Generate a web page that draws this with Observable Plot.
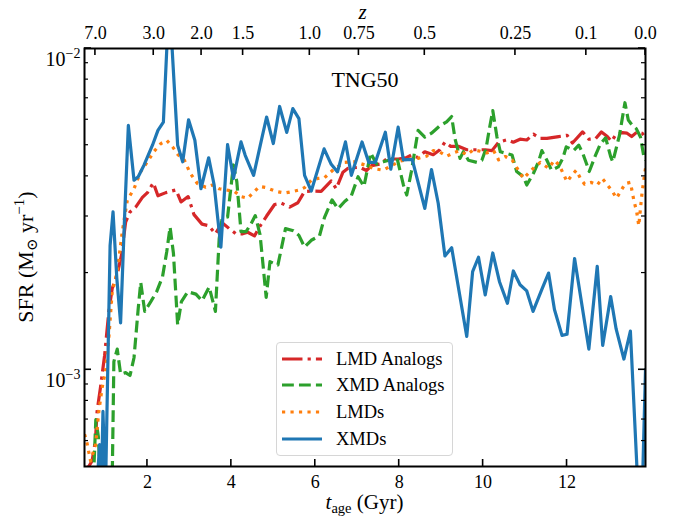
<!DOCTYPE html>
<html>
<head>
<meta charset="utf-8">
<script src="https://cdn.jsdelivr.net/npm/d3@7"></script>
<script src="https://cdn.jsdelivr.net/npm/@observablehq/plot@0.6"></script>
<style>
  body { margin: 0; background: #fff; }
  #wrap { position: relative; width: 676px; height: 518px; font-family: "Liberation Serif", serif; }
  #wrap svg text, #wrap svg tspan { font-family: "Liberation Serif", serif; }
  #legend { position: absolute; left: 276px; top: 342px; width: 177px; height: 114px; box-sizing: border-box;
            border: 1px solid #d6d6d6; border-radius: 4px; background: rgba(255,255,255,0.85); }
  .row { position: absolute; left: 5px; height: 26px; display: flex; align-items: center; }
  .row span { margin-left: 14px; font-size: 18.5px; color: #000; white-space: nowrap; font-family: "Liberation Serif", serif; }
</style>
</head>
<body>
<div id="wrap"><div id="legend"></div></div>
<script>
// ---- Data (SFR values in units of 1e-3 Msun/yr, ages in Gyr) ----
const lmdAnalogsAge = [0.50,0.60,0.68,0.76,0.80,0.88,0.98,1.08,1.16,1.28,1.38,1.48,1.585,1.72,1.88,2.0,2.14,2.25,2.44,2.68,2.80,2.97,3.11,3.30,3.46,3.62,3.78,3.95,4.11,4.27,4.39,4.55,4.69,4.84,5.03,5.19,5.39,5.585,5.745,5.905,6.14,6.38,6.50,6.66,6.78,7.06,7.22,7.34,7.54,7.70,7.98,8.18,8.29,8.45,8.61,8.81,8.97,9.09,9.23,9.41,9.61,9.85,10.05,10.21,10.37,10.57,10.72,10.88,11.04,11.20,11.36,11.52,11.80,12.0,12.13,12.37,12.52,12.68,12.82,12.96,13.06,13.17,13.315,13.43,13.54,13.67,13.79,13.87];
const lmdAnalogsSFR = [0.49,0.50,0.52,0.60,0.742,0.88,1.11,1.52,1.79,1.98,2.27,2.88,3.10,3.21,3.44,3.56,3.82,3.48,3.56,3.63,3.33,3.46,3.04,2.84,2.81,2.65,2.87,2.75,2.65,2.65,2.68,2.61,2.81,3.01,3.27,3.30,3.21,3.31,3.59,3.60,3.59,3.87,3.66,4.12,4.24,4.27,4.17,4.32,4.37,4.53,4.53,4.58,4.66,4.58,4.77,4.67,4.84,5.11,4.96,4.96,4.84,4.84,4.84,4.81,5.11,5.20,5.11,5.22,5.19,5.41,5.25,5.25,5.32,5.37,5.08,5.50,5.22,5.24,5.50,5.32,5.14,5.41,5.47,5.45,5.32,5.50,5.45,5.27];

const xmdAnalogsAge = [0.52,0.60,0.72,0.77,0.83,0.88,0.95,1.10,1.16,1.20,1.28,1.36,1.48,1.585,1.68,1.78,1.84,1.935,2.08,2.22,2.36,2.46,2.54,2.62,2.72,2.81,2.96,3.155,3.30,3.47,3.62,3.71,3.78,3.91,4.05,4.13,4.23,4.35,4.47,4.57,4.685,4.83,4.92,5.11,5.29,5.48,5.61,5.745,5.905,6.10,6.22,6.40,6.54,6.70,6.86,7.02,7.16,7.32,7.46,7.62,7.78,7.94,8.10,8.18,8.29,8.45,8.61,8.77,8.97,9.13,9.25,9.33,9.45,9.53,9.65,9.85,9.97,10.07,10.15,10.23,10.33,10.41,10.57,10.69,10.80,10.96,11.04,11.20,11.32,11.40,11.52,11.63,11.79,11.90,11.98,12.16,12.28,12.375,12.53,12.68,12.80,12.92,13.04,13.09,13.25,13.38,13.46,13.55,13.65,13.75,13.83,13.87];
const xmdAnalogsSFR = [0.49,0.42,0.48,0.70,0.62,0.45,0.40,0.40,0.45,1.06,1.16,0.97,0.98,0.96,1.09,1.55,1.87,1.52,1.63,1.75,1.95,2.33,2.78,2.30,1.38,1.63,1.75,1.72,1.64,1.81,1.52,2.56,2.96,2.99,4.34,3.85,2.69,2.69,2.85,3.02,2.63,1.68,2.17,2.12,2.75,2.71,2.62,2.41,2.53,2.61,2.98,3.38,3.17,3.34,3.48,3.99,3.72,4.73,4.37,4.44,4.50,4.61,3.76,3.50,4.14,5.56,5.30,5.45,5.75,5.91,6.14,5.24,4.55,4.77,4.49,4.42,4.49,4.89,5.63,6.41,5.30,4.77,4.71,4.66,4.14,3.99,3.76,4.09,4.44,4.81,4.49,4.18,4.28,4.55,4.94,4.82,5.00,4.72,4.14,4.66,5.06,5.27,4.61,4.44,5.37,6.78,5.99,5.78,5.63,5.30,4.61,4.49];

const lmdsAge = [0.50,0.55,0.645,0.765,0.84,0.92,1.0,1.08,1.16,1.28,1.40,1.52,1.68,1.84,2.0,2.16,2.32,2.46,2.60,2.73,2.88,3.02,3.19,3.39,3.55,3.71,3.87,4.07,4.23,4.39,4.55,4.67,4.83,5.07,5.27,5.47,5.625,5.745,5.905,6.06,6.22,6.46,6.70,6.94,7.18,7.42,7.62,7.82,8.02,8.22,8.45,8.65,8.81,8.97,9.13,9.29,9.45,9.61,9.77,9.93,10.09,10.25,10.37,10.53,10.69,10.82,10.96,11.08,11.22,11.36,11.56,11.70,11.82,12.0,12.12,12.22,12.32,12.42,12.58,12.72,12.84,13.07,13.18,13.27,13.39,13.51,13.59,13.66,13.71,13.79,13.87];
const lmdsSFR = [0.63,0.60,0.52,0.585,0.74,0.88,0.99,1.26,1.75,2.02,2.69,3.37,3.66,4.14,4.44,4.79,5.06,5.18,4.94,4.67,4.49,4.09,3.80,3.70,3.76,3.66,3.63,3.59,3.46,3.42,3.59,3.72,3.69,3.59,3.55,3.59,3.63,3.69,3.89,3.94,3.96,4.23,4.42,4.44,4.34,4.22,4.18,4.32,4.46,4.52,4.55,4.62,4.81,4.76,4.62,4.73,4.81,4.67,4.84,4.79,4.73,4.81,4.50,4.61,4.50,4.22,3.94,4.09,4.27,4.42,4.24,4.49,4.32,3.85,4.04,4.18,3.94,3.78,3.83,3.76,3.94,3.61,3.42,3.58,3.80,3.83,3.38,3.10,2.81,3.58,4.24];

const xmdsAge = [0.78,0.86,0.90,0.94,1.00,1.11,1.18,1.27,1.36,1.46,1.545,1.68,1.78,1.92,2.12,2.25,2.38,2.49,2.57,2.72,2.84,2.98,3.13,3.275,3.46,3.59,3.75,3.91,4.05,4.23,4.33,4.53,4.69,4.84,5.0,5.15,5.32,5.465,5.61,5.745,5.905,6.21,6.38,6.53,6.72,6.86,7.115,7.275,7.43,7.67,7.80,7.975,8.10,8.31,8.61,8.77,8.93,9.09,9.25,9.61,9.75,9.89,10.05,10.23,10.39,10.58,10.72,10.88,11.04,11.19,11.40,11.56,11.70,11.88,12.0,12.18,12.52,12.72,12.85,13.04,13.17,13.355,13.51,13.70,13.79,13.87];
const xmdsSFR = [0.40,0.585,0.42,0.742,0.42,2.44,3.10,1.93,1.40,3.10,5.76,3.89,3.99,4.34,5.00,5.56,5.90,12.0,11.0,5.00,4.44,6.00,5.18,3.66,4.57,3.76,2.41,5.02,3.94,5.12,4.65,4.03,5.00,6.12,5.06,6.60,5.48,6.50,6.05,4.03,3.60,4.87,4.36,4.13,5.12,4.03,5.12,4.42,4.42,5.49,4.21,5.69,4.50,4.52,3.18,4.20,3.30,2.26,2.40,1.27,2.02,2.24,1.71,2.31,1.88,1.61,2.03,1.84,1.76,1.52,1.78,2.00,1.54,1.28,1.29,2.22,1.16,2.10,1.19,1.69,1.34,1.08,1.32,0.40,0.40,1.00];

const seriesNames = ["LMD Analogs", "XMD Analogs", "LMDs", "XMDs"];
const seriesColors = ["#d62728", "#2ca02c", "#ff7f0e", "#1f77b4"];

// Axis ticks
const ageTicks = [2, 4, 6, 8, 10, 12];
const zTickLabels = ["7.0", "3.0", "2.0", "1.5", "1.0", "0.75", "0.5", "0.25", "0.1", "0.0"];
const zTickAges = [0.76, 2.15, 3.29, 4.28, 5.87, 7.04, 8.61, 10.77, 12.46, 13.87];
const yMajorTicks = [1e-3, 1e-2];
const yMinorTicks = [6e-4, 7e-4, 8e-4, 9e-4, 2e-3, 3e-3, 4e-3, 5e-3, 6e-3, 7e-3, 8e-3, 9e-3];

// ---- Build ----
const LW = 3.2;
const dashes = [`${6.4*LW},${1.6*LW},${1*LW},${1.6*LW}`, `${3.7*LW},${1.6*LW}`, `${1*LW},${1.65*LW}`, null];
const ages = [lmdAnalogsAge, xmdAnalogsAge, lmdsAge, xmdsAge];
const sfrs = [lmdAnalogsSFR, xmdAnalogsSFR, lmdsSFR, xmdsSFR];

const lineMarks = seriesNames.map((name, k) => {
  const rows = ages[k].map((t, i) => ({ t, sfr: sfrs[k][i] * 1e-3 }));
  return Plot.line(rows, {
    x: "t", y: "sfr", stroke: seriesColors[k], strokeWidth: LW,
    strokeDasharray: dashes[k], strokeLinecap: dashes[k] ? "butt" : "square",
    strokeLinejoin: "round", clip: true
  });
});

const zMap = new Map(zTickAges.map((a, i) => [a, zTickLabels[i]]));

const W = 676, H = 518, L = 84, R = 645, T = 48, B = 466;
const MAJ = 7, MIN = 4;

const svg = Plot.plot({
  width: W, height: H,
  marginLeft: L, marginRight: W - R, marginTop: T, marginBottom: H - B,
  x: { domain: [0.5, 13.87] },
  y: { type: "log", domain: [5e-4, 1e-2] },
  style: { fontFamily: "'Liberation Serif', serif", fontSize: "18px", color: "#000", background: "#fff", overflow: "visible" },
  marks: [
    ...lineMarks,
    Plot.text(["TNG50"], { frameAnchor: "top", dy: 23, fontSize: 22, fill: "#000" }),
    Plot.axisX(ageTicks, { anchor: "bottom", tickSize: 0, tickPadding: 9, label: null }),
    Plot.axisX(zTickAges, { anchor: "top", tickSize: 0, tickPadding: 10, tickFormat: d => zMap.get(d), label: null }),
    Plot.axisY(yMajorTicks, { anchor: "left", tickSize: 0, tickPadding: 4, fontSize: 20, tickFormat: d => `10^${Math.round(Math.log10(d))}`, label: null }),
    Plot.frame({ stroke: "#000", strokeWidth: 2 })
  ]
});

document.getElementById("wrap").prepend(svg);
const s = d3.select(svg);
const xs = svg.scale("x"), ys = svg.scale("y");
const px = v => (xs && xs.apply) ? xs.apply(v) : L + (v - 0.5) / (13.87 - 0.5) * (R - L);
const py = v => (ys && ys.apply) ? ys.apply(v) : B - (Math.log10(v) - Math.log10(5e-4)) / (Math.log10(1e-2) - Math.log10(5e-4)) * (B - T);

// inward ticks (matplotlib style), positioned through the plot's scales
const tg = s.append("g").attr("class", "inticks");
function seg(x1, y1, x2, y2, w) {
  tg.append("path").attr("d", `M${x1},${y1}L${x2},${y2}`).attr("stroke", "#000").attr("stroke-width", w).attr("fill", "none");
}
ageTicks.forEach(v => { const x = px(v); seg(x, B, x, B - MAJ, 1.6); });
zTickAges.forEach(v => { const x = px(v); seg(x, T, x, T + MAJ, 1.6); });
yMajorTicks.forEach(v => { const y = py(v); seg(L, y, L + MAJ, y, 1.6); seg(R, y, R - MAJ, y, 1.6); });
yMinorTicks.forEach(v => { const y = py(v); seg(L, y, L + MIN, y, 1.2); seg(R, y, R - MIN, y, 1.2); });

// superscript exponents on log tick labels
s.selectAll('g[aria-label="y-axis tick label"] text').each(function () {
  const m = (this.textContent || "").match(/^10\^(-?\d+)$/);
  if (!m) return;
  const sel = d3.select(this);
  sel.text("");
  sel.attr("dy", "0.55em");
  sel.append("tspan").text("10");
  sel.append("tspan").attr("dy", -8).attr("font-size", 14).text(m[1].replace("-", "\u2212"));
});

// axis labels
const xl = s.append("text").attr("x", (L + R) / 2).attr("y", 509).attr("text-anchor", "middle")
  .attr("font-size", 21).attr("fill", "#000");
xl.append("tspan").attr("font-style", "italic").text("t");
xl.append("tspan").attr("dy", 3.5).attr("font-size", 14.5).text("age");
xl.append("tspan").attr("dy", -3.5).text(" (Gyr)");

s.append("text").attr("x", (L + R) / 2 - 2).attr("y", 19).attr("text-anchor", "middle")
  .attr("font-size", 21).attr("font-style", "italic").attr("fill", "#000").text("z");

const yl = s.append("text").attr("transform", `translate(33,${(T + B) / 2}) rotate(-90)`).attr("text-anchor", "middle")
  .attr("font-size", 22).attr("fill", "#000");
yl.append("tspan").text("SFR (M");
yl.append("tspan").attr("dy", 4).attr("font-size", 15).style("font-family", "'DejaVu Serif', serif").text("\u2299");
yl.append("tspan").attr("dy", -4).text(" yr");
yl.append("tspan").attr("dy", -9).attr("font-size", 15).text("\u22121");
yl.append("tspan").attr("dy", 9).text(")");

// legend
const legend = document.getElementById("legend");
const rowTops = [3, 29, 56, 83];
seriesNames.forEach((name, k) => {
  const row = document.createElement("div");
  row.className = "row";
  row.style.top = rowTops[k] + "px";
  row.innerHTML = `<svg width="40" height="8"><line x1="0" y1="4" x2="40" y2="4" stroke="${seriesColors[k]}" stroke-width="${LW}" ${dashes[k] ? `stroke-dasharray="${dashes[k]}"` : ""} stroke-linecap="butt"/></svg><span>${name}</span>`;
  legend.appendChild(row);
});
</script>
</body>
</html>
